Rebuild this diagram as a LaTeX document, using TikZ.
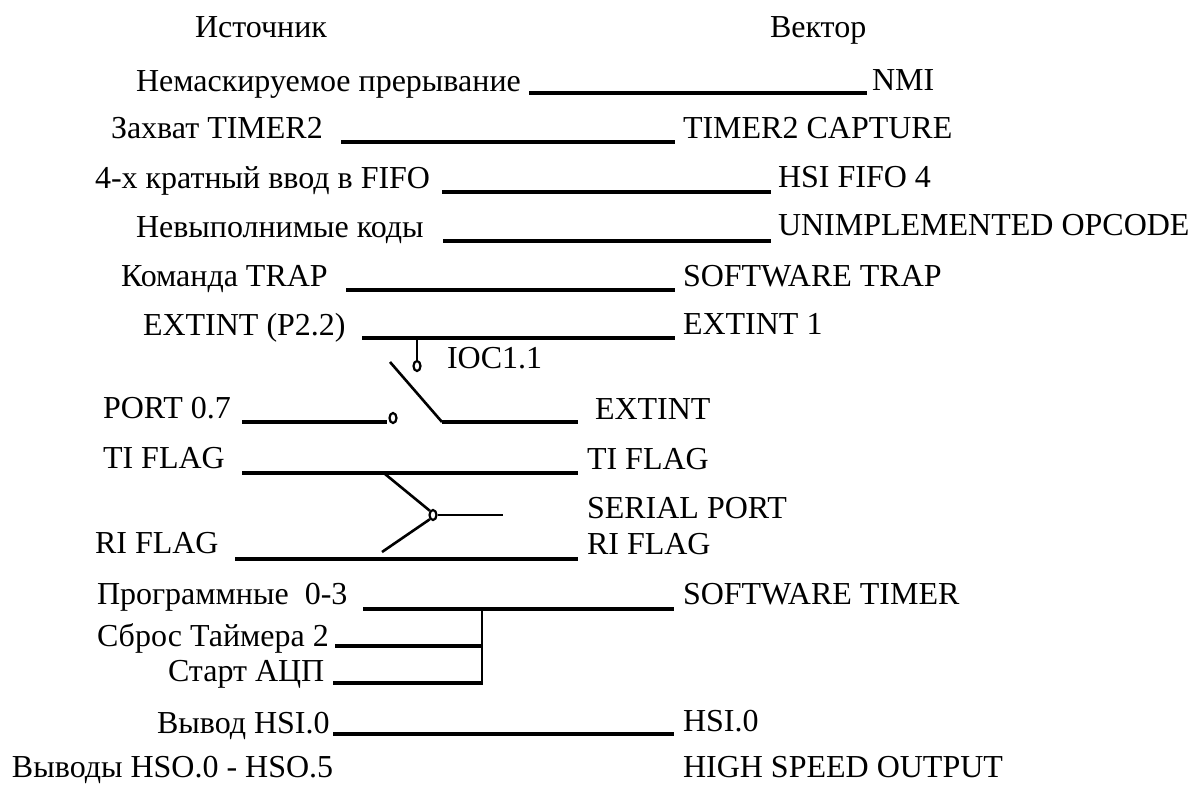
\documentclass[tikz,border=0pt]{standalone}
\usepackage{fontspec}
\setmainfont{Liberation Serif}
\usetikzlibrary{shapes.geometric}
\tikzset{
  lbl/.style={anchor=base west, inner sep=0pt, outer sep=0pt, font=\fontsize{32}{38}\selectfont},
  wire/.style={line width=4pt},
  thinwire/.style={line width=2.6pt},
  contact/.style={draw, ellipse, line width=2.2pt, minimum width=7pt, minimum height=10pt, inner sep=0pt}
}
\begin{document}
\begin{tikzpicture}[x=1pt,y=-1pt]
\useasboundingbox (0,0) rectangle (1192,785);
% headers
\node[lbl] (hsrc) at (195,37) {Источник};
\node[lbl] (hvec) at (770,37) {Вектор};
% left labels
\node[lbl] (s1) at (136,91) {Немаскируемое прерывание};
\node[lbl] (s2) at (111,138) {Захват TIMER2};
\node[lbl] (s3) at (95,188) {4-х кратный ввод в FIFO};
\node[lbl] (s4) at (136,237) {Невыполнимые коды};
\node[lbl] (s5) at (121,286) {Команда TRAP};
\node[lbl] (s6) at (143,335) {EXTINT (P2.2)};
\node[lbl] (s7) at (103,418) {PORT 0.7};
\node[lbl] (s8) at (103,468) {TI FLAG};
\node[lbl] (s9) at (95,553) {RI FLAG};
\node[lbl] (s10) at (97,604) {Программные\ \ 0-3};
\node[lbl] (s11) at (97,646) {Сброс Таймера 2};
\node[lbl] (s12) at (168,681) {Старт АЦП};
\node[lbl] (s13) at (157,733) {Вывод HSI.0};
\node[lbl] (s14) at (12,777) {Выводы HSO.0 - HSO.5};
% right labels
\node[lbl] (v1) at (872,90) {NMI};
\node[lbl] (v2) at (683,138) {TIMER2 CAPTURE};
\node[lbl] (v3) at (778,187) {HSI FIFO 4};
\node[lbl] (v4) at (778,235) {UNIMPLEMENTED OPCODE};
\node[lbl] (v5) at (683,286) {SOFTWARE TRAP};
\node[lbl] (v6) at (683,334) {EXTINT 1};
\node[lbl] (ioc) at (447,368) {IOC1.1};
\node[lbl] (v7) at (595,419) {EXTINT};
\node[lbl] (v8) at (587,469) {TI FLAG};
\node[lbl] (v9) at (587,518) {SERIAL PORT};
\node[lbl] (v10) at (587,554) {RI FLAG};
\node[lbl] (v11) at (683,604) {SOFTWARE TIMER};
\node[lbl] (v12) at (683,731) {HSI.0};
\node[lbl] (v13) at (683,777) {HIGH SPEED OUTPUT};
% wire end points
\coordinate (a1) at (529,93);  \coordinate (b1) at (867,93);
\coordinate (a2) at (341,142); \coordinate (b2) at (675,142);
\coordinate (a3) at (442,192); \coordinate (b3) at (771,192);
\coordinate (a4) at (443,241); \coordinate (b4) at (771,241);
\coordinate (a5) at (346,290); \coordinate (b5) at (675,290);
\coordinate (a6) at (362,338); \coordinate (b6) at (675,338);
\coordinate (ioctap) at (417,338);
\coordinate (pa) at (242,422); \coordinate (pb) at (387,422);
\coordinate (levtop) at (390,362); \coordinate (levbot) at (442,422);
\coordinate (eb) at (578,422);
\coordinate (ta) at (242,473); \coordinate (tb) at (578,473);
\coordinate (ra) at (235,559); \coordinate (rb) at (578,559);
\coordinate (tdiag) at (385,474); \coordinate (rdiag) at (382,552);
\coordinate (serend) at (503,515);
\coordinate (ga) at (363,609); \coordinate (gb) at (674,609);
\coordinate (bus) at (482,609); \coordinate (busb) at (482,685);
\coordinate (ca) at (335,646); \coordinate (cb) at (482,646);
\coordinate (da) at (333,683); \coordinate (db) at (482,683);
\coordinate (ha) at (333,734); \coordinate (hb) at (674,734);
% contacts
\node[contact] (cioc) at (417,366) {};
\node[contact] (cport) at (393,418) {};
\node[contact] (cser) at (433,515) {};
% wires
\draw[wire] (a1) -- (b1);
\draw[wire] (a2) -- (b2);
\draw[wire] (a3) -- (b3);
\draw[wire] (a4) -- (b4);
\draw[wire] (a5) -- (b5);
\draw[wire] (a6) -- (b6);
\draw[thinwire] (ioctap) -- (cioc.north);
\draw[wire] (pa) -- (pb);
\draw[thinwire] (levtop) -- (levbot);
\draw[wire] (levbot) -- (eb);
\draw[wire] (ta) -- (tb);
\draw[wire] (ra) -- (rb);
\draw[thinwire] (tdiag) -- (cser.north west);
\draw[thinwire] (rdiag) -- (cser.south west);
\draw[thinwire] (cser.east) -- (serend);
\draw[wire] (ga) -- (gb);
\draw[thinwire] (bus) -- (busb);
\draw[wire] (ca) -- (cb);
\draw[wire] (da) -- (db);
\draw[wire] (ha) -- (hb);
\end{tikzpicture}
\end{document}
